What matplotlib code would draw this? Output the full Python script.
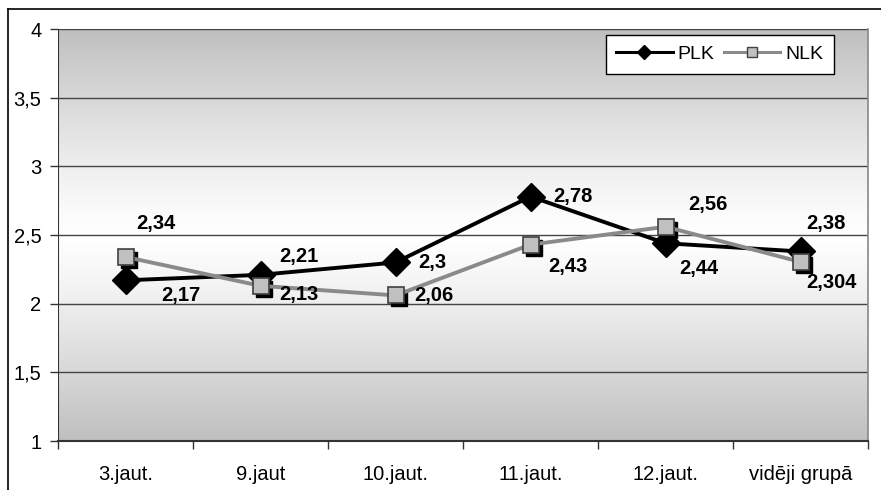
import numpy as np
import matplotlib
matplotlib.use("Agg")
import matplotlib.pyplot as plt
from matplotlib.transforms import ScaledTranslation
from matplotlib.lines import Line2D

plt.rcParams['font.family'] = ['Liberation Sans', 'DejaVu Sans']

categories = ["3.jaut.", "9.jaut", "10.jaut.", "11.jaut.", "12.jaut.", "vidēji grupā"]
plk = [2.17, 2.21, 2.3, 2.78, 2.44, 2.38]
nlk = [2.34, 2.13, 2.06, 2.43, 2.56, 2.304]
y_ticks = [1, 1.5, 2, 2.5, 3, 3.5, 4]
y_tick_labels = ["1", "1,5", "2", "2,5", "3", "3,5", "4"]

# label offsets in pixels (dx, dy) relative to each marker
plk_offsets = [(55, -15), (38, 18), (37, 0), (42, 0), (33, -25), (25, 28)]
nlk_offsets = [(30, 33), (38, -9), (38, 0), (37, -22), (42, 22), (31, -21)]

W, H = 881, 490
fig = plt.figure(figsize=(W / 100, H / 100), dpi=100)

# outer chart frame (left and top edges visible)
fig.add_artist(Line2D([8 / W, 8 / W], [0, 1 - 9 / H], color="black", lw=1.2, transform=fig.transFigure))
fig.add_artist(Line2D([8 / W, 1], [1 - 9 / H, 1 - 9 / H], color="black", lw=1.2, transform=fig.transFigure))

left, right, top, bottom = 58, 868, 29, 441
ax = fig.add_axes([left / W, 1 - bottom / H, (right - left) / W, (bottom - top) / H])

x = np.arange(len(categories))
ax.set_xlim(-0.5, len(categories) - 0.5)
ax.set_ylim(1, 4)

# background gradient: gray at top and bottom, white in the middle
t = np.linspace(0, 1, 256)
shade = 0.75 + 0.25 * (1 - np.abs(2 * t - 1) ** 1.2)
grad = np.repeat(shade[:, None, None], 3, axis=2)
ax.imshow(grad, extent=[-0.5, len(categories) - 0.5, 1, 4], aspect="auto",
          origin="lower", zorder=0, interpolation="bicubic")

# gridlines
for yv in y_ticks[1:]:
    ax.axhline(yv, color="#444444", lw=1.0, zorder=1)

# spines
for s in ["top", "left"]:
    ax.spines[s].set_visible(False)
ax.spines["right"].set_color("#888888")
ax.spines["right"].set_linewidth(1.2)
ax.spines["bottom"].set_color("#333333")
ax.spines["bottom"].set_linewidth(1.5)
ax.axvline(-0.5, color="#333333", lw=1.5, zorder=1)

# ticks: boundaries get tick marks, category centres get the labels
ax.set_yticks(y_ticks)
ax.set_yticklabels(y_tick_labels, fontsize=14.5)
ax.set_xticks(np.arange(len(categories) + 1) - 0.5)
ax.set_xticklabels([])
ax.set_xticks(x, minor=True)
ax.set_xticklabels(categories, minor=True, fontsize=14.5)
ax.tick_params(axis="x", which="major", length=6, color="#333333", width=1)
ax.tick_params(axis="x", which="minor", length=0, pad=17)
ax.tick_params(axis="y", length=6, color="#333333", width=1, pad=6)

# marker shadows
shadow = ax.transData + ScaledTranslation(3 / 100, -3 / 100, fig.dpi_scale_trans)
ax.plot(x, nlk, ls="none", marker="s", ms=11, color="black", transform=shadow, zorder=3)

ax.plot(x, plk, color="black", lw=2.8, marker="D", ms=14, mfc="black", mec="black",
        zorder=4, label="PLK")
ax.plot(x, nlk, color="#8a8a8a", lw=2.8, marker="s", ms=11, mfc="#c0c0c0", mec="#404040",
        mew=1.2, zorder=5, label="NLK")

for i in range(len(categories)):
    ax.annotate(f"{plk[i]}".replace(".", ","), (x[i], plk[i]), xytext=plk_offsets[i],
                textcoords="offset pixels", ha="center", va="center",
                fontsize=14.5, fontweight="bold", zorder=6)
    ax.annotate(f"{nlk[i]}".replace(".", ","), (x[i], nlk[i]), xytext=nlk_offsets[i],
                textcoords="offset pixels", ha="center", va="center",
                fontsize=14.5, fontweight="bold", zorder=6)

handles = [
    Line2D([], [], color="black", lw=2.2, marker="D", ms=7, mfc="black"),
    Line2D([], [], color="#8a8a8a", lw=2.2, marker="s", ms=7, mfc="#c0c0c0", mec="#404040"),
]
leg = ax.legend(handles, ["PLK", "NLK"], ncol=2, loc="upper right",
                bbox_to_anchor=((834 - left) / (right - left), (bottom - 35) / (bottom - top)),
                fontsize=14, frameon=True, fancybox=False, framealpha=1,
                edgecolor="black", handlelength=2.9, handletextpad=0.25,
                columnspacing=0.5, borderpad=0.55, borderaxespad=0)
leg.get_frame().set_linewidth(1.0)
leg.set_zorder(10)

fig.savefig("out.png", dpi=100)
